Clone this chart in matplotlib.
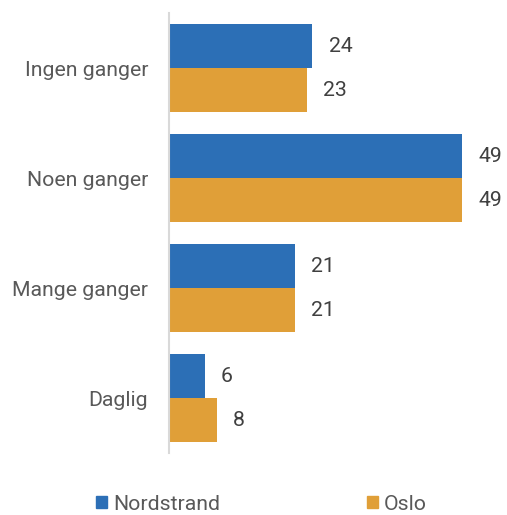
import matplotlib
matplotlib.use("Agg")
import matplotlib.pyplot as plt
from matplotlib.patches import Patch
import numpy as np

categories = ["Ingen ganger", "Noen ganger", "Mange ganger", "Daglig"]
nordstrand = [24, 49, 21, 6]
oslo = [23, 49, 21, 8]
series_names = ["Nordstrand", "Oslo"]

BLUE = "#2c6fb6"
ORANGE = "#e09f38"
TEXT = "#595959"
FS = 15.3

plt.rcParams["font.family"] = ["Roboto", "DejaVu Sans"]

fig = plt.figure(figsize=(5.07, 5.15), dpi=100)
W, H = 507, 515
ax = fig.add_axes([169 / W, 1 - 453 / H, 330 / W, 440 / H])

y = np.arange(len(categories))
h = 0.4
ax.barh(y - h / 2, nordstrand, height=h, color=BLUE)
ax.barh(y + h / 2, oslo, height=h, color=ORANGE)

for yi, v in zip(y - h / 2, nordstrand):
    ax.text(v + 2.7, yi, f"{v}", va="center", ha="left", fontsize=FS, color="#404040")
for yi, v in zip(y + h / 2, oslo):
    ax.text(v + 2.7, yi, f"{v}", va="center", ha="left", fontsize=FS, color="#404040")

ax.set_xlim(0, 55.2)
ax.set_ylim(3.5, -0.5)
ax.set_yticks(y)
ax.set_yticklabels(categories, fontsize=FS, color=TEXT)
ax.tick_params(axis="y", length=0, pad=15)
ax.set_xticks([])
for s in ["top", "right", "bottom"]:
    ax.spines[s].set_visible(False)
ax.spines["left"].set_color("#d9d9d9")
ax.spines["left"].set_linewidth(1.5)

# one legend entry per series, placed along the bottom
for color, name, x0 in zip([BLUE, ORANGE], series_names, [96, 367]):
    fig.legend([Patch(color=color)], [name], loc="center left",
               bbox_to_anchor=(x0 / W, 1 - 504 / H), frameon=False,
               fontsize=FS, labelcolor=TEXT, borderpad=0, borderaxespad=0,
               handlelength=0.5, handleheight=0.5, handletextpad=0.3)

fig.savefig("out.png", dpi=100)
